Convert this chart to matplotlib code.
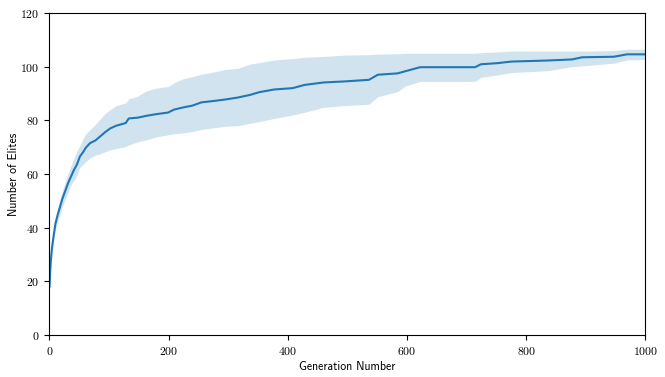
import matplotlib
matplotlib.use("Agg")
import matplotlib.pyplot as plt
import numpy as np

# generation at which each reading was taken
generations = [0, 2, 4, 7, 10, 14, 18, 22, 27, 31, 36, 41, 46, 51, 56, 61, 68, 77,
               85, 94, 102, 112, 128, 133, 148, 163, 179, 199, 209, 224, 240, 255,
               275, 296, 316, 337, 352, 377, 408, 428, 459, 495, 536, 551, 584, 597,
               622, 714, 724, 751, 775, 836, 877, 894, 947, 969, 1000]

# mean number of elites
elites_mean = [18, 27, 32, 37, 41.5, 45, 48, 51, 54, 56.5, 59, 61.5, 63.5, 66.5, 68,
               69.8, 71.5, 72.5, 74, 75.7, 77, 78, 79, 80.7, 81, 81.7, 82.3, 82.9, 84,
               84.8, 85.5, 86.7, 87.2, 87.8, 88.5, 89.5, 90.5, 91.5, 92, 93.2, 94.1,
               94.5, 95.1, 97, 97.5, 98.3, 99.8, 99.8, 100.9, 101.3, 101.9, 102.3,
               102.7, 103.5, 103.7, 104.6, 104.6]

# lower / upper edge of the shaded band
elites_low = [17, 25, 30, 35, 39.5, 42.5, 45, 48, 51, 53, 56, 57.5, 59.5, 62.5, 63.5,
              64.6, 66, 67, 67.5, 68.3, 69, 69.5, 70.2, 70.8, 72, 72.8, 73.8, 74.6, 75,
              75.3, 75.8, 76.6, 77.2, 77.8, 78, 78.9, 79.5, 80.7, 82, 83, 84.8, 85.5,
              86, 88.8, 90.7, 92.8, 94.5, 94.5, 96, 96.9, 97.8, 98.5, 100, 100.3,
              101.3, 102.5, 102.7]

elites_high = [19, 29, 34, 39, 43.5, 47.5, 51, 54, 57.5, 60, 63, 66, 68.5, 70.5, 73,
               75, 76.5, 78.5, 80.5, 82.7, 84, 85.5, 86.5, 88, 89, 91, 92, 92.6, 94,
               95.5, 96.3, 97.2, 98, 99, 99.4, 101, 101.5, 102.5, 103, 103.5, 103.8,
               104.3, 104.5, 104.7, 104.8, 105, 105, 105, 105.2, 105.5, 105.8, 105.8,
               105.8, 105.8, 106, 106.5, 106.5]

plt.rcParams["axes.formatter.use_mathtext"] = True

fig = plt.figure(figsize=(6.65, 3.77), dpi=100)
ax = fig.add_axes([0.0744, 0.1114, 0.8962, 0.8541])

# shaded spread and mean line
ax.fill_between(generations, elites_low, elites_high, color="tab:blue", alpha=0.2, linewidth=0)
ax.plot(generations, elites_mean, color="tab:blue", linewidth=1.5)

ax.set_xlim(0, 1000)
ax.set_ylim(0, 120)
ax.set_xticks(np.arange(0, 1001, 200))
ax.set_yticks(np.arange(0, 121, 20))

for lab in ax.get_xticklabels() + ax.get_yticklabels():
    lab.set_fontfamily("cmr10")
    lab.set_fontsize(8.5)

ax.set_xlabel("Generation Number", fontfamily="cmss10", fontsize=8.5, labelpad=3)
ax.set_ylabel("Number of Elites", fontfamily="cmss10", fontsize=8.5, labelpad=0)

fig.savefig("out.png", dpi=100)
